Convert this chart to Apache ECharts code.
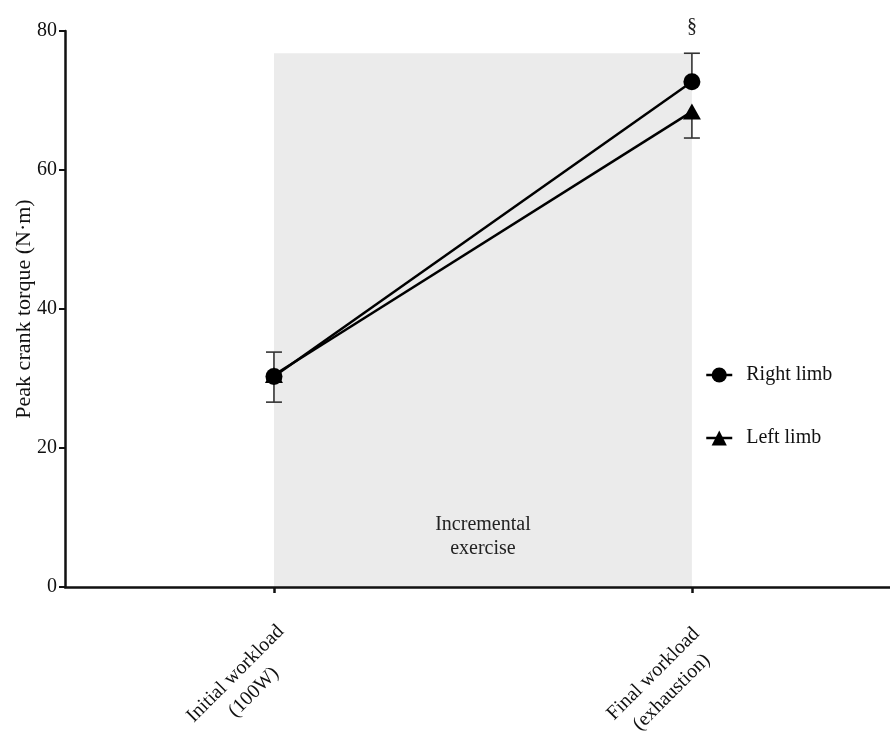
<!DOCTYPE html>
<html>
<head>
<meta charset="utf-8">
<script src="https://cdn.jsdelivr.net/npm/echarts@6/dist/echarts.min.js"></script>
<style>html,body{margin:0;padding:0;background:#fff}#c{width:890px;height:731px}</style>
</head>
<body>
<div id="c"></div>
<script>
const categories = [['Initial workload', '(100W)'], ['Final workload', '(exhaustion)']];
const xPositions = [1, 2];
const rightMean = [30.3, 72.7];
const rightSD = [3.5, 4.1];
const leftMean = [30.5, 68.4];
const leftSD = [3.9, 3.8];
const seriesNames = ['Right limb', 'Left limb'];
const shadeTop = 76.8;
const shadeLabel = 'Incremental\nexercise';
const sigMark = '§';
const yAxisName = 'Peak crank torque (N·m)';

const FONT = '"Liberation Serif", "Times New Roman", serif';

const rightData = xPositions.map((x, i) => [x, rightMean[i]]);
const leftData = xPositions.map((x, i) => [x, leftMean[i]]);
const rightErr = xPositions.map((x, i) => [x, rightMean[i], rightMean[i] + rightSD[i]]);
const leftErr = xPositions.map((x, i) => [x, leftMean[i], leftMean[i] - leftSD[i]]);

function errRender(params, api) {
  const x = api.value(0), m = api.value(1), e = api.value(2);
  const p1 = api.coord([x, m]), p2 = api.coord([x, e]);
  const w = 8;
  const style = { stroke: '#333', lineWidth: 1.6 };
  return {
    type: 'group',
    children: [
      { type: 'line', shape: { x1: p1[0], y1: p1[1], x2: p2[0], y2: p2[1] }, style },
      { type: 'line', shape: { x1: p2[0] - w, y1: p2[1], x2: p2[0] + w, y2: p2[1] }, style }
    ]
  };
}

const chart = echarts.init(document.getElementById('c'));
chart.setOption({
  animation: false,
  backgroundColor: '#fff',
  grid: { left: 65, right: 0, top: 31, bottom: 144, containLabel: false, outerBoundsMode: 'none' },
  legend: {
    data: seriesNames,
    orient: 'vertical',
    left: 705,
    top: 365,
    padding: 0,
    itemWidth: 26,
    itemHeight: 19,
    itemGap: 43,
    lineStyle: { width: 2.5 },
    textStyle: { fontFamily: FONT, fontSize: 20, color: '#111', padding: [0, 0, 0, 9] }
  },
  xAxis: {
    type: 'value',
    min: 0.5,
    max: 2.474,
    z: 10,
    splitLine: { show: false },
    axisLine: { lineStyle: { color: '#111', width: 2.5 } },
    axisTick: { customValues: xPositions, length: 6, inside: false, lineStyle: { color: '#111', width: 2.5 } },
    axisLabel: {
      customValues: xPositions,
      rotate: 45,
      align: 'right',
      verticalAlign: 'top',
      margin: 30,
      formatter: function (v) {
        const i = xPositions.indexOf(Math.round(v));
        if (i < 0) return '';
        return categories[i].map(s => '{a|' + s + '}').join('\n');
      },
      rich: { a: { width: 135, align: 'center', fontFamily: FONT, fontSize: 20, lineHeight: 26, color: '#111' } }
    }
  },
  yAxis: {
    type: 'value',
    min: 0,
    max: 80,
    interval: 20,
    z: 10,
    name: yAxisName,
    nameLocation: 'middle',
    nameGap: 30,
    nameMoveOverlap: false,
    nameTextStyle: { fontFamily: FONT, fontSize: 22, color: '#111' },
    splitLine: { show: false },
    axisLine: { show: true, lineStyle: { color: '#111', width: 2.5 } },
    axisTick: { show: true, length: 6, lineStyle: { color: '#111', width: 2 } },
    axisLabel: { margin: 8, fontFamily: FONT, fontSize: 20, color: '#111' }
  },
  series: [
    {
      name: seriesNames[0],
      type: 'line',
      data: rightData,
      symbol: 'circle',
      symbolSize: 17,
      z: 5,
      itemStyle: { color: '#000' },
      lineStyle: { color: '#000', width: 2.5 },
      markArea: {
        silent: true,
        itemStyle: { color: '#ebebeb' },
        label: {
          show: true,
          position: 'insideBottom',
          distance: 26,
          formatter: shadeLabel,
          fontFamily: FONT,
          fontSize: 20,
          lineHeight: 24,
          color: '#222'
        },
        data: [[{ xAxis: xPositions[0], yAxis: 0 }, { xAxis: xPositions[1], yAxis: shadeTop }]]
      },
      markPoint: {
        silent: true,
        symbol: 'circle',
        symbolSize: 0,
        label: { show: true, position: 'top', distance: 16, formatter: sigMark, fontFamily: FONT, fontSize: 20, color: '#222' },
        data: [{ coord: [xPositions[1], rightMean[1] + rightSD[1]] }]
      }
    },
    {
      name: seriesNames[1],
      type: 'line',
      data: leftData,
      symbol: 'triangle',
      symbolSize: [18, 16],
      z: 4,
      itemStyle: { color: '#000' },
      lineStyle: { color: '#000', width: 2.5 }
    },
    { name: 'Right err', type: 'custom', renderItem: errRender, data: rightErr, z: 3, silent: true },
    { name: 'Left err', type: 'custom', renderItem: errRender, data: leftErr, z: 3, silent: true }
  ]
});
</script>
</body>
</html>
